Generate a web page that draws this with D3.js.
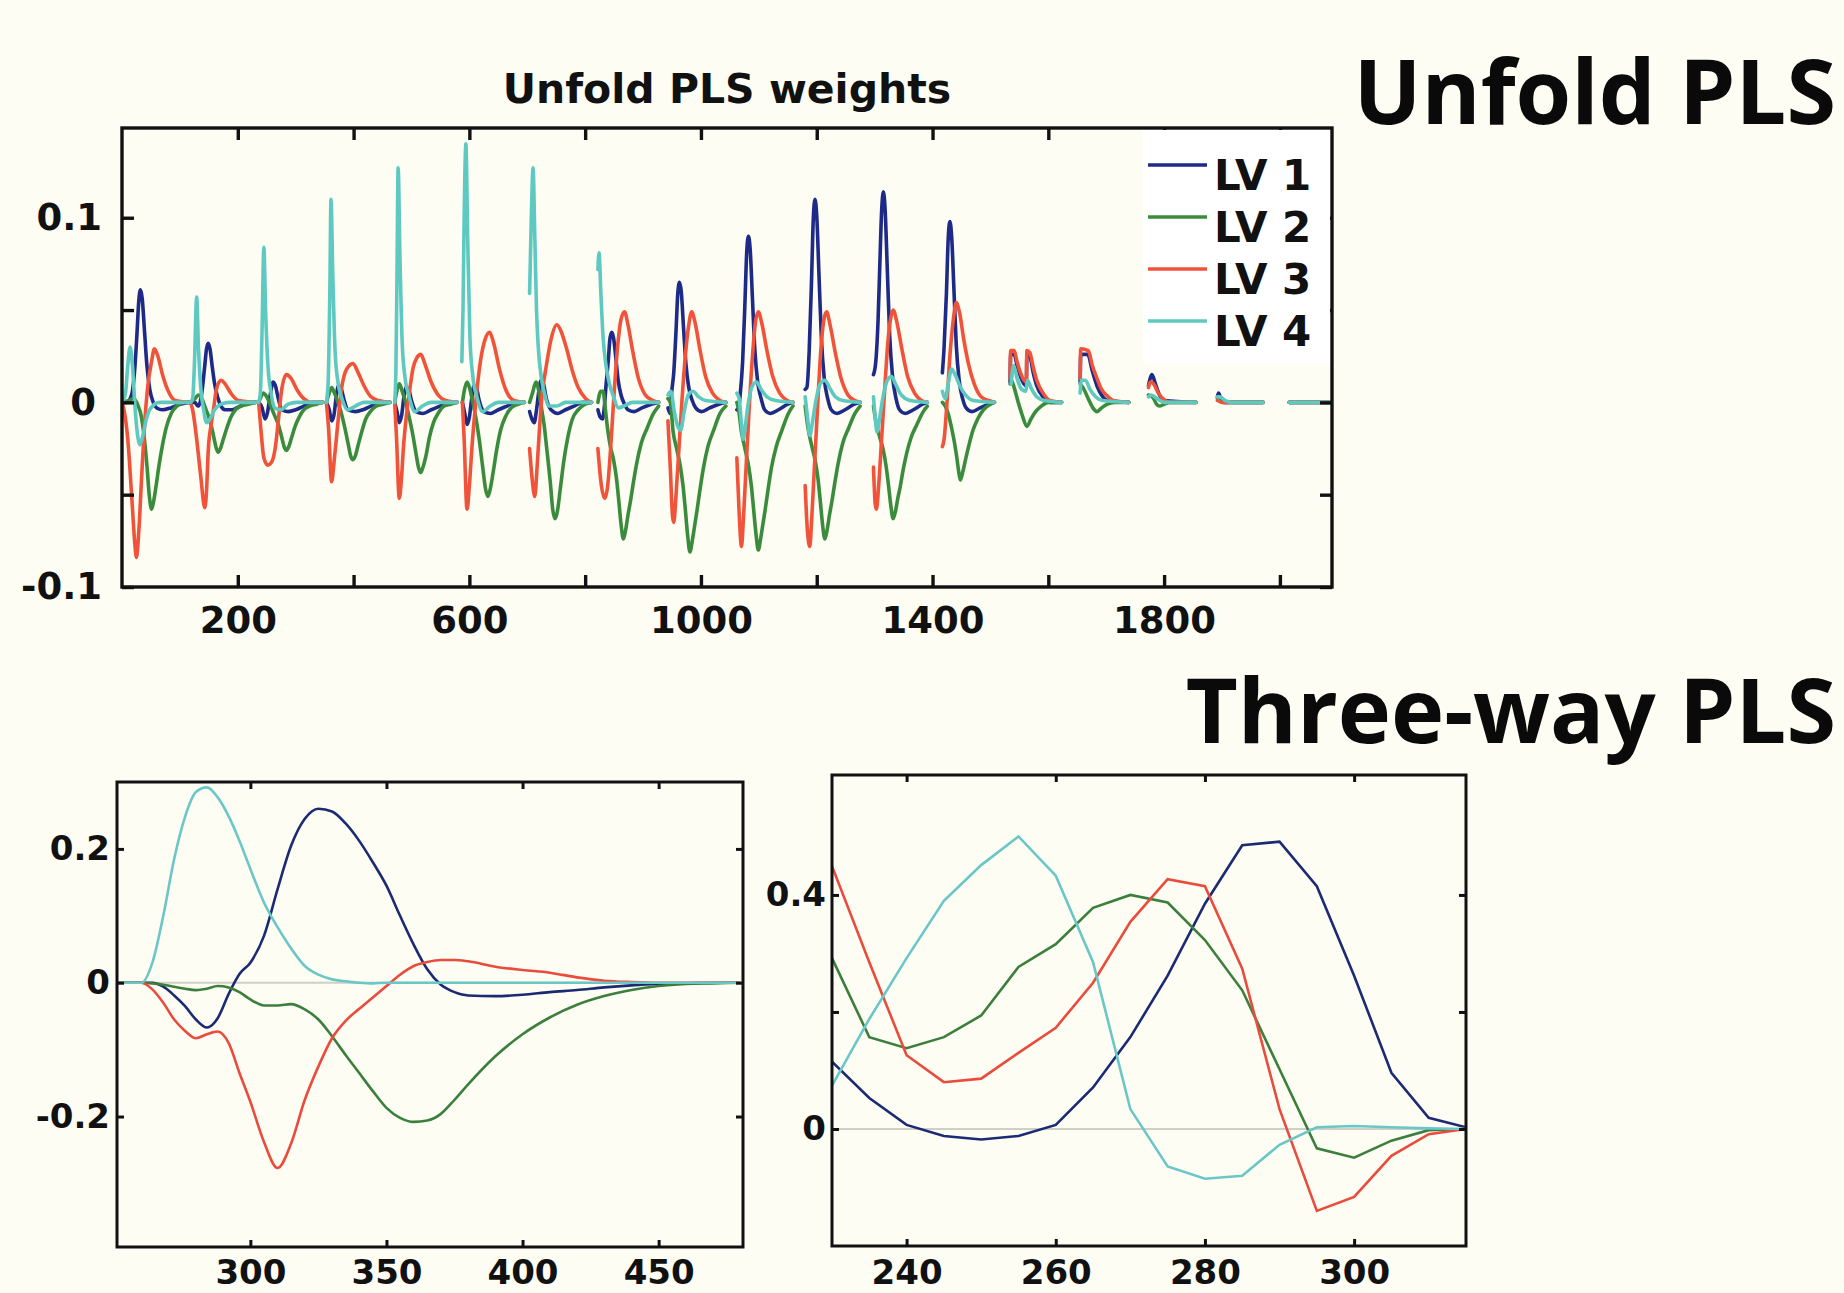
<!DOCTYPE html>
<html><head><meta charset="utf-8">
<script src="https://cdn.jsdelivr.net/npm/d3@7"></script>
<style>html,body{margin:0;padding:0;background:#fdfdf4;}svg{display:block;}</style>
</head><body>
<svg id="c" width="1844" height="1293"></svg>
<script>
// ---------------- DATA ----------------
const seriesNames = ['LV 1','LV 2','LV 3','LV 4'];
// Unfolded PLS weights: 18 excitation blocks of 116 emission variables.
// Each block: [offset within block, weight]
const blockSize = 116;
const topXTicks = [200,400,600,800,1000,1200,1400,1600,1800,2000];
const topXLabels = [200,600,1000,1400,1800];
const topYTicks = [-0.1,-0.05,0,0.05,0.1];
const topYLabels = [-0.1,0,0.1];

const unfoldLV1 = [
 [[0,0],[8,0],[14,0.002],[18,0.006],[22,0.018],[26,0.038],[29,0.055],[32,0.061],[35,0.056],[39,0.038],[43,0.02],[48,0.007],[54,0],[60,-0.003],[70,-0.004],[84,-0.003],[100,-0.001],[115,0]],
 [[2,0],[10,0],[15,-0.002],[19,0],[23,0.008],[27,0.02],[30,0.029],[33,0.032],[36,0.029],[40,0.019],[44,0.01],[49,0.003],[55,-0.002],[62,-0.004],[74,-0.004],[88,-0.002],[104,0],[115,0]],
 [[4,0],[10,-0.003],[15,-0.009],[19,-0.006],[24,0.004],[29,0.011],[33,0.009],[38,0.002],[44,-0.004],[55,-0.005],[68,-0.004],[82,-0.002],[98,0],[115,0]],
 [[5,0],[10,-0.004],[14,-0.01],[18,-0.007],[22,0.003],[26,0.009],[30,0.008],[35,0.002],[42,-0.004],[55,-0.005],[68,-0.004],[82,-0.002],[98,0],[115,0]],
 [[7,0],[11,-0.005],[15,-0.011],[19,-0.007],[23,0.003],[27,0.008],[31,0.007],[36,0.001],[44,-0.005],[56,-0.006],[70,-0.004],[85,-0.002],[100,0],[115,0]],
 [[8,0],[12,-0.006],[16,-0.012],[20,-0.008],[24,0.002],[28,0.009],[32,0.008],[37,0.001],[45,-0.005],[57,-0.006],[70,-0.004],[85,-0.002],[100,0],[115,0]],
 [[8,-0.005],[12,-0.009],[16,-0.011],[20,-0.004],[24,0.006],[28,0.012],[32,0.01],[37,0.002],[45,-0.004],[57,-0.006],[70,-0.004],[85,-0.002],[100,0],[115,0]],
 [[10,-0.004],[14,-0.008],[18,-0.009],[21,-0.003],[24,0.009],[28,0.023],[31,0.035],[34,0.038],[37,0.035],[41,0.024],[45,0.012],[50,0.004],[56,-0.001],[62,-0.004],[72,-0.005],[86,-0.003],[102,-0.001],[115,0]],
 [[15,-0.003],[19,-0.006],[21,0.004],[25,0.016],[29,0.039],[32,0.059],[35,0.065],[38,0.06],[42,0.04],[46,0.021],[51,0.008],[57,0.001],[63,-0.003],[73,-0.005],[87,-0.003],[103,-0.001],[115,0]],
 [[18,-0.004],[21,-0.003],[24,0.005],[28,0.022],[32,0.054],[35,0.081],[38,0.09],[41,0.083],[45,0.056],[49,0.029],[54,0.011],[60,0.002],[66,-0.004],[76,-0.006],[90,-0.004],[106,-0.001],[115,0]],
 [[20,0.007],[23,0.008],[27,0.028],[31,0.066],[34,0.099],[37,0.11],[40,0.101],[44,0.068],[48,0.035],[53,0.013],[59,0.002],[65,-0.004],[75,-0.006],[89,-0.004],[105,-0.001],[115,0]],
 [[22,0.015],[26,0.022],[30,0.045],[33,0.075],[36,0.103],[39,0.114],[42,0.105],[46,0.071],[50,0.036],[55,0.014],[61,0.002],[67,-0.004],[77,-0.006],[91,-0.004],[107,-0.001],[115,0]],
 [[25,0.016],[28,0.03],[32,0.059],[35,0.088],[38,0.098],[41,0.09],[45,0.061],[49,0.031],[54,0.012],[60,0.002],[66,-0.003],[76,-0.005],[90,-0.003],[106,-0.001],[115,0]],
 [[26,0.011],[27,0.026],[33,0.026],[38,0.02],[44,0.014],[50,0.01],[54,0.009],[55,0.026],[60,0.025],[66,0.016],[72,0.009],[83,0.003],[95,0],[115,0]],
 [[31,0.011],[32,0.026],[44,0.026],[52,0.017],[60,0.009],[68,0.004],[78,0.001],[115,0]],
 [[33,0.009],[36,0.013],[39,0.015],[45,0.01],[52,0.004],[60,0.001],[115,0]],
 [[36,0.003],[38,0.005],[42,0.002],[50,0],[115,0]],
 [[44,0],[115,0]]
];
const unfoldLV2 = [
 [[0,0],[12,0.001],[20,0.002],[28,-0.002],[33,-0.007],[38,-0.018],[43,-0.034],[47,-0.05],[51,-0.058],[55,-0.053],[59,-0.045],[64,-0.034],[70,-0.023],[77,-0.013],[85,-0.006],[95,-0.002],[106,0],[115,0]],
 [[2,0],[10,0.002],[16,0.004],[22,0.002],[28,-0.003],[34,-0.008],[40,-0.015],[44,-0.021],[47,-0.025],[50,-0.027],[54,-0.025],[59,-0.02],[65,-0.014],[72,-0.008],[80,-0.004],[90,-0.002],[102,-0.001],[115,0]],
 [[4,0],[8,0.003],[12,0.005],[18,0.003],[24,-0.001],[30,-0.006],[38,-0.012],[44,-0.019],[48,-0.024],[52,-0.026],[56,-0.024],[61,-0.019],[67,-0.013],[74,-0.008],[82,-0.004],[92,-0.002],[104,-0.001],[115,0]],
 [[5,0],[9,0.004],[14,0.008],[19,0.005],[25,0],[31,-0.006],[37,-0.014],[43,-0.023],[47,-0.029],[51,-0.031],[55,-0.029],[60,-0.023],[66,-0.016],[73,-0.009],[81,-0.005],[91,-0.002],[103,-0.001],[115,0]],
 [[7,0],[10,0.005],[15,0.01],[20,0.006],[26,0],[32,-0.008],[38,-0.017],[44,-0.028],[48,-0.035],[52,-0.038],[56,-0.035],[61,-0.029],[67,-0.019],[74,-0.011],[82,-0.006],[92,-0.002],[104,-0.001],[115,0]],
 [[8,0],[11,0.006],[16,0.011],[21,0.007],[26,0],[31,-0.008],[37,-0.02],[43,-0.035],[48,-0.047],[52,-0.051],[56,-0.047],[61,-0.038],[67,-0.026],[74,-0.015],[82,-0.008],[92,-0.003],[104,-0.001],[115,0]],
 [[8,0],[13,0.005],[19,0.011],[24,0.006],[28,-0.002],[33,-0.012],[38,-0.026],[44,-0.044],[48,-0.058],[52,-0.063],[56,-0.059],[61,-0.047],[67,-0.032],[74,-0.019],[82,-0.009],[92,-0.004],[104,-0.001],[115,0]],
 [[10,0],[15,0.006],[19,0.006],[23,-0.004],[27,-0.015],[31,-0.023],[37,-0.031],[42,-0.041],[46,-0.053],[50,-0.066],[54,-0.074],[58,-0.069],[62,-0.061],[66,-0.054],[71,-0.044],[77,-0.033],[85,-0.022],[95,-0.014],[106,-0.006],[115,-0.002]],
 [[15,0.002],[19,0],[24,-0.016],[30,-0.025],[36,-0.034],[41,-0.045],[45,-0.058],[49,-0.072],[53,-0.081],[57,-0.075],[61,-0.067],[65,-0.059],[70,-0.048],[76,-0.036],[84,-0.024],[94,-0.015],[105,-0.006],[115,-0.002]],
 [[18,0],[21,-0.004],[26,-0.016],[32,-0.025],[38,-0.034],[43,-0.045],[47,-0.058],[51,-0.071],[55,-0.08],[59,-0.074],[63,-0.066],[67,-0.058],[72,-0.047],[78,-0.035],[86,-0.024],[96,-0.015],[107,-0.006],[115,-0.002]],
 [[20,-0.002],[25,-0.014],[31,-0.023],[37,-0.031],[42,-0.041],[46,-0.053],[50,-0.066],[54,-0.074],[58,-0.069],[62,-0.061],[66,-0.054],[71,-0.044],[77,-0.033],[85,-0.022],[95,-0.014],[106,-0.006],[115,-0.002]],
 [[22,-0.002],[27,-0.012],[33,-0.019],[39,-0.026],[44,-0.035],[48,-0.045],[52,-0.056],[56,-0.063],[60,-0.059],[64,-0.052],[68,-0.046],[73,-0.037],[79,-0.028],[87,-0.019],[97,-0.012],[108,-0.005],[115,-0.002]],
 [[25,0],[30,-0.002],[35,-0.006],[41,-0.014],[46,-0.022],[50,-0.03],[53,-0.037],[56,-0.042],[60,-0.038],[65,-0.031],[71,-0.023],[78,-0.015],[86,-0.009],[96,-0.004],[108,-0.001],[115,0]],
 [[26,0.01],[28,0.012],[33,0.008],[40,0],[47,-0.007],[55,-0.013],[62,-0.009],[70,-0.005],[80,-0.002],[92,0],[115,0]],
 [[31,0.01],[36,0.008],[45,0.002],[53,-0.003],[60,-0.005],[68,-0.003],[78,-0.001],[90,0],[115,0]],
 [[33,0.004],[40,0.003],[47,-0.001],[52,-0.002],[60,-0.001],[70,0],[115,0]],
 [[36,0.002],[45,0],[115,0]],
 [[44,0],[115,0]]
];
const unfoldLV3 = [
 [[0,0],[4,-0.005],[10,-0.02],[17,-0.052],[22,-0.076],[25,-0.084],[29,-0.07],[34,-0.04],[39,-0.012],[45,0.01],[51,0.022],[56,0.029],[62,0.025],[70,0.015],[80,0.006],[92,0.001],[115,0]],
 [[2,0],[6,-0.004],[13,-0.02],[20,-0.04],[27,-0.057],[30,-0.048],[33,-0.026],[38,-0.012],[42,-0.004],[47,0.007],[55,0.012],[62,0.01],[72,0.005],[85,0.001],[115,0]],
 [[4,0],[8,-0.015],[13,-0.03],[20,-0.034],[27,-0.032],[33,-0.024],[38,-0.01],[43,0.005],[52,0.015],[60,0.013],[70,0.007],[82,0.002],[95,0],[115,0]],
 [[5,0],[9,-0.015],[14,-0.043],[19,-0.03],[24,-0.014],[31,0.007],[40,0.018],[51,0.021],[60,0.016],[70,0.009],[82,0.003],[95,0.001],[115,0]],
 [[7,0],[10,-0.018],[15,-0.052],[19,-0.04],[22,-0.025],[27,-0.008],[31,0.002],[39,0.019],[45,0.024],[52,0.026],[60,0.02],[70,0.011],[82,0.004],[95,0.001],[115,0]],
 [[8,0],[11,-0.02],[16,-0.058],[20,-0.045],[25,-0.022],[31,0],[39,0.022],[47,0.034],[55,0.038],[62,0.032],[72,0.018],[84,0.006],[97,0.001],[115,0]],
 [[8,-0.025],[12,-0.04],[17,-0.051],[21,-0.035],[26,-0.01],[30,0.005],[37,0.02],[45,0.034],[55,0.042],[63,0.038],[72,0.029],[82,0.017],[92,0.008],[105,0.002],[115,0]],
 [[10,-0.025],[16,-0.045],[22,-0.052],[27,-0.045],[33,-0.02],[38,0.005],[44,0.03],[50,0.045],[56,0.049],[62,0.042],[70,0.028],[80,0.013],[92,0.004],[105,0.001],[115,0]],
 [[15,-0.01],[19,-0.035],[23,-0.062],[25,-0.065],[29,-0.05],[34,-0.025],[39,0],[45,0.025],[51,0.042],[56,0.049],[62,0.043],[70,0.029],[80,0.014],[92,0.005],[105,0.001],[115,0]],
 [[18,-0.03],[22,-0.06],[26,-0.078],[29,-0.065],[34,-0.035],[39,-0.005],[45,0.025],[50,0.043],[55,0.049],[61,0.043],[70,0.028],[80,0.014],[92,0.005],[105,0.001],[115,0]],
 [[20,-0.045],[24,-0.07],[28,-0.078],[31,-0.065],[36,-0.035],[41,-0.005],[47,0.028],[52,0.044],[57,0.049],[63,0.042],[72,0.027],[82,0.013],[94,0.004],[106,0.001],[115,0]],
 [[22,-0.035],[25,-0.055],[27,-0.058],[31,-0.045],[36,-0.02],[41,0.005],[47,0.033],[52,0.046],[56,0.05],[62,0.044],[71,0.029],[81,0.014],[93,0.005],[105,0.001],[115,0]],
 [[25,-0.024],[28,-0.02],[33,0],[38,0.025],[44,0.045],[49,0.054],[55,0.048],[62,0.034],[70,0.021],[80,0.01],[92,0.003],[105,0.001],[115,0]],
 [[26,0.013],[27,0.028],[33,0.028],[38,0.022],[44,0.016],[50,0.012],[54,0.011],[55,0.028],[60,0.027],[66,0.019],[72,0.012],[83,0.005],[95,0.001],[115,0]],
 [[31,0.013],[32,0.029],[45,0.028],[52,0.02],[60,0.013],[68,0.007],[76,0.004],[88,0.001],[115,0]],
 [[33,0.008],[36,0.011],[42,0.01],[50,0.005],[58,0.002],[70,0],[115,0]],
 [[36,0.001],[45,0],[115,0]],
 [[44,0],[115,0]]
];
const unfoldLV4 = [
 [[0,0],[6,0.005],[10,0.02],[14,0.03],[18,0.02],[23,-0.005],[28,-0.02],[31,-0.023],[36,-0.018],[42,-0.009],[50,-0.003],[65,0],[115,0]],
 [[2,0],[6,0.002],[9,0.02],[13,0.057],[16,0.03],[20,0.008],[25,-0.004],[30,-0.011],[36,-0.009],[44,-0.004],[55,-0.001],[70,0],[115,0]],
 [[4,0],[7,0.005],[10,0.04],[13,0.084],[16,0.05],[20,0.02],[25,0.006],[32,-0.003],[42,-0.004],[55,-0.001],[70,0],[115,0]],
 [[5,0],[8,0.01],[11,0.06],[13,0.11],[16,0.07],[20,0.028],[25,0.011],[32,0.002],[42,-0.004],[55,-0.002],[70,0],[115,0]],
 [[7,0],[9,0.015],[11,0.07],[13,0.127],[16,0.08],[20,0.032],[25,0.013],[32,0.003],[42,-0.005],[55,-0.002],[70,0],[115,0]],
 [[7,0.022],[9,0.05],[11,0.1],[14,0.14],[17,0.09],[21,0.035],[26,0.014],[33,0.003],[43,-0.005],[56,-0.002],[70,0],[115,0]],
 [[8,0.059],[11,0.1],[14,0.127],[17,0.09],[20,0.05],[23,0.03],[28,0.014],[33,0.006],[42,-0.002],[55,-0.002],[70,0],[115,0]],
 [[10,0.072],[12,0.081],[15,0.06],[19,0.035],[24,0.02],[30,0.01],[37,0.003],[45,-0.003],[55,-0.002],[70,0],[115,0]],
 [[15,0.004],[20,0.006],[26,-0.005],[32,-0.013],[37,-0.015],[43,-0.005],[50,0.004],[58,0.006],[68,0.003],[80,0.001],[115,0]],
 [[18,0.005],[22,0.002],[26,-0.012],[29,-0.02],[33,-0.012],[38,0],[45,0.009],[52,0.011],[60,0.007],[70,0.003],[85,0.001],[115,0]],
 [[20,0.003],[24,-0.008],[28,-0.018],[32,-0.012],[38,0],[46,0.01],[54,0.012],[62,0.008],[72,0.003],[85,0.001],[115,0]],
 [[22,0.003],[25,-0.008],[28,-0.016],[32,-0.01],[38,0.002],[46,0.012],[53,0.014],[60,0.01],[70,0.004],[85,0.001],[115,0]],
 [[25,0.006],[30,0.002],[35,0.01],[41,0.018],[47,0.015],[55,0.009],[65,0.004],[78,0.001],[115,0]],
 [[28,0.01],[32,0.02],[38,0.013],[46,0.007],[53,0.006],[56,0.012],[62,0.008],[72,0.003],[85,0.001],[115,0]],
 [[31,0.005],[33,0.012],[40,0.012],[48,0.007],[58,0.003],[70,0.001],[115,0]],
 [[33,0.003],[38,0.004],[48,0.002],[60,0],[115,0]],
 [[36,0.003],[40,0.003],[50,0.001],[60,0],[115,0]],
 [[44,0],[115,0]]
];

// Three-way PLS emission loadings
const emWavelengths = [251,256,260,264,268,272,276,280,284,288,292,296,300,305,310,315,320,325,330,335,340,345,350,355,360,365,370,375,380,390,400,410,420,430,440,450,460,470,480];
const emLV1 = [0,0,0,0,-0.006,-0.019,-0.035,-0.055,-0.067,-0.053,-0.017,0.013,0.03,0.07,0.14,0.205,0.245,0.26,0.256,0.238,0.212,0.18,0.145,0.1,0.057,0.02,-0.003,-0.014,-0.019,-0.02,-0.018,-0.014,-0.011,-0.007,-0.004,-0.002,-0.001,0,0];
const emLV2 = [0,0,0,-0.001,-0.003,-0.006,-0.009,-0.011,-0.009,-0.005,-0.007,-0.014,-0.025,-0.034,-0.034,-0.032,-0.04,-0.055,-0.08,-0.108,-0.135,-0.162,-0.187,-0.202,-0.208,-0.206,-0.196,-0.175,-0.152,-0.11,-0.077,-0.052,-0.033,-0.02,-0.011,-0.005,-0.002,-0.001,0];
const emLV3 = [0,0,0,-0.01,-0.03,-0.055,-0.072,-0.083,-0.077,-0.073,-0.09,-0.135,-0.178,-0.238,-0.277,-0.24,-0.175,-0.125,-0.083,-0.057,-0.039,-0.022,-0.005,0.012,0.025,0.031,0.034,0.034,0.032,0.024,0.019,0.015,0.008,0.003,0.001,0,0,0,0];
const emLV4 = [0,0,0,0.03,0.1,0.185,0.248,0.285,0.292,0.277,0.249,0.212,0.17,0.12,0.083,0.051,0.025,0.012,0.005,0.002,0,-0.001,0,0,0,0,0,0,0,0,0,0,0,0,0,0,0,0,0];
const emXTicks = [300,350,400,450];
const emYTicks = [-0.2,0,0.2];

// Three-way PLS excitation loadings
const exWavelengths = [230,235,240,245,250,255,260,265,270,275,280,285,290,295,300,305,310,315];
const exLV1 = [0.115,0.053,0.007,-0.012,-0.018,-0.012,0.007,0.071,0.157,0.262,0.385,0.485,0.491,0.415,0.262,0.096,0.019,0.003];
const exLV2 = [0.292,0.157,0.138,0.157,0.194,0.277,0.316,0.378,0.40,0.387,0.323,0.237,0.102,-0.033,-0.049,-0.02,-0.002,0];
const exLV3 = [0.449,0.285,0.126,0.080,0.086,0.130,0.173,0.250,0.354,0.427,0.415,0.274,0.034,-0.140,-0.116,-0.046,-0.009,0];
const exLV4 = [0.074,0.188,0.292,0.39,0.451,0.50,0.433,0.285,0.034,-0.064,-0.085,-0.080,-0.027,0.003,0.005,0.003,0.001,0];
const exXTicks = [240,260,280,300];
const exYTicks = [0,0.2,0.4];
const exYLabels = [0,0.4];

// ---------------- DRAW ----------------
const W = 1844, H = 1293;
const svg = d3.select('#c');
svg.append('rect').attr('width', W).attr('height', H).attr('fill', '#fdfdf4');
const topColors = ['#1e2a88', '#3a8c3c', '#f0533a', '#5ec9c0'];
const botColors = ['#1b2a72', '#3c7f3c', '#e94c3d', '#6ac7c6'];
const FONT = 'DejaVu Sans';
const fmtNum = d => (d < 0 ? '-' : '') + String(Math.abs(d));

function addClip(id, x0, y0, w, h) {
  svg.append('clipPath').attr('id', id).append('rect').attr('x', x0).attr('y', y0).attr('width', w).attr('height', h);
}

function drawAxes(x, y, o) {
  const [x0, x1] = x.range();
  const [yb, yt] = y.range();
  const g = svg.append('g');
  g.append('g').attr('transform', `translate(0,${yb})`)
    .call(d3.axisBottom(x).tickValues(o.xTicks).tickFormat(d => o.xLabels.includes(d) ? String(d) : '')
      .tickSizeInner(-o.tickLen).tickSizeOuter(0).tickPadding(o.padX));
  g.append('g').attr('transform', `translate(0,${yt})`)
    .call(d3.axisTop(x).tickValues(o.xTicks).tickFormat(() => '').tickSizeInner(-o.tickLen).tickSizeOuter(0));
  const left = g.append('g').attr('transform', `translate(${x0},0)`)
    .call(d3.axisLeft(y).tickValues(o.yTicks).tickFormat(d => o.yLabels.includes(d) ? fmtNum(d) : '')
      .tickSizeInner(-o.tickLen).tickSizeOuter(0).tickPadding(o.padY));
  g.append('g').attr('transform', `translate(${x1},0)`)
    .call(d3.axisRight(y).tickValues(o.yTicks).tickFormat(() => '').tickSizeInner(-o.tickLen).tickSizeOuter(0));
  g.selectAll('.domain').remove();
  g.selectAll('.tick line').attr('stroke', '#111').attr('stroke-width', o.sw);
  g.selectAll('.tick text').attr('font-family', FONT).attr('font-weight', 'bold')
    .attr('font-size', o.fs).attr('fill', '#111');
  if (o.zeroShift) left.selectAll('.tick text').filter(d => d === 0).attr('x', -(o.padY + o.zeroShift));
  g.append('rect').attr('x', x0).attr('y', yt).attr('width', x1 - x0).attr('height', yb - yt)
    .attr('fill', 'none').attr('stroke', '#111').attr('stroke-width', o.sw);
}

// ----- Top: Unfold PLS weights -----
const xTop = d3.scaleLinear().domain([0, 2090]).range([122, 1332]);
const yTop = d3.scaleLinear().domain([-0.1, 0.1486]).range([587, 128]);
addClip('clipTop', 122, 128, 1210, 459);
const topSeries = [unfoldLV1, unfoldLV2, unfoldLV3, unfoldLV4];
const gTop = svg.append('g').attr('clip-path', 'url(#clipTop)');
topSeries.forEach((blocks, si) => {
  blocks.forEach((pts, k) => {
    const line = d3.line()
      .x(d => xTop(k * blockSize + d[0]))
      .y(d => yTop(d[1]))
      .curve(d3.curveMonotoneX);
    gTop.append('path').attr('d', line(pts)).attr('fill', 'none')
      .attr('stroke', topColors[si]).attr('stroke-width', 3.6)
      .attr('stroke-linejoin', 'round').attr('stroke-linecap', 'round');
  });
});
drawAxes(xTop, yTop, {xTicks: topXTicks, xLabels: topXLabels, yTicks: topYTicks, yLabels: topYLabels,
  tickLen: 12, padX: 20, padY: 20, fs: 37, sw: 3.4, zeroShift: 6});

svg.append('text').attr('x', 727).attr('y', 103).attr('text-anchor', 'middle')
  .attr('font-family', FONT).attr('font-weight', 'bold').attr('font-size', 41).attr('fill', '#111')
  .text('Unfold PLS weights');

// legend
const leg = svg.append('g');
leg.append('rect').attr('x', 1143).attr('y', 130).attr('width', 187).attr('height', 232).attr('fill', '#ffffff');
seriesNames.forEach((nm, i) => {
  const cy = 165 + i * 52;
  leg.append('line').attr('x1', 1148).attr('x2', 1207).attr('y1', cy).attr('y2', cy)
    .attr('stroke', topColors[i]).attr('stroke-width', 3.6);
  leg.append('text').attr('x', 1214).attr('y', cy + 25).attr('font-family', FONT).attr('font-weight', 'bold')
    .attr('font-size', 42).attr('fill', '#111').text(nm);
});

// ----- Bottom-left: emission loadings -----
const xEm = d3.scaleLinear().domain([251, 481]).range([117, 743]);
const yEm = d3.scaleLinear().domain([-0.395, 0.3]).range([1247, 782]);
addClip('clipEm', 117, 782, 626, 465);
const gEm = svg.append('g').attr('clip-path', 'url(#clipEm)');
gEm.append('line').attr('x1', 117).attr('x2', 743).attr('y1', yEm(0)).attr('y2', yEm(0))
  .attr('stroke', '#cfcfc6').attr('stroke-width', 2);
[emLV1, emLV2, emLV3, emLV4].forEach((vals, si) => {
  const line = d3.line().x((d, i) => xEm(emWavelengths[i])).y(d => yEm(d)).curve(d3.curveMonotoneX);
  gEm.append('path').attr('d', line(vals)).attr('fill', 'none').attr('stroke', botColors[si]).attr('stroke-width', 2.6);
});
drawAxes(xEm, yEm, {xTicks: emXTicks, xLabels: emXTicks, yTicks: emYTicks, yLabels: emYTicks,
  tickLen: 7, padX: 13, padY: 7, fs: 34, sw: 3});

// ----- Bottom-right: excitation loadings -----
const xEx = d3.scaleLinear().domain([230, 315]).range([832, 1466]);
const yEx = d3.scaleLinear().domain([-0.2, 0.605]).range([1246, 775]);
addClip('clipEx', 832, 775, 634, 471);
const gEx = svg.append('g').attr('clip-path', 'url(#clipEx)');
gEx.append('line').attr('x1', 832).attr('x2', 1466).attr('y1', yEx(0)).attr('y2', yEx(0))
  .attr('stroke', '#cfcfc6').attr('stroke-width', 2);
[exLV1, exLV2, exLV3, exLV4].forEach((vals, si) => {
  const line = d3.line().x((d, i) => xEx(exWavelengths[i])).y(d => yEx(d));
  gEx.append('path').attr('d', line(vals)).attr('fill', 'none').attr('stroke', botColors[si]).attr('stroke-width', 2.6);
});
drawAxes(xEx, yEx, {xTicks: exXTicks, xLabels: exXTicks, yTicks: exYTicks, yLabels: exYLabels,
  tickLen: 7, padX: 14, padY: 6, fs: 34, sw: 3});

// ----- Headings -----
svg.append('text').attr('x', 1836).attr('y', 124).attr('text-anchor', 'end')
  .attr('font-family', 'Open Sans').attr('font-weight', 700).attr('font-size', 90).attr('fill', '#0a0a0a')
  .text('Unfold PLS');
svg.append('text').attr('x', 1836).attr('y', 743).attr('text-anchor', 'end')
  .attr('font-family', 'Open Sans').attr('font-weight', 700).attr('font-size', 90).attr('fill', '#0a0a0a')
  .text('Three-way PLS');
</script>
</body></html>
